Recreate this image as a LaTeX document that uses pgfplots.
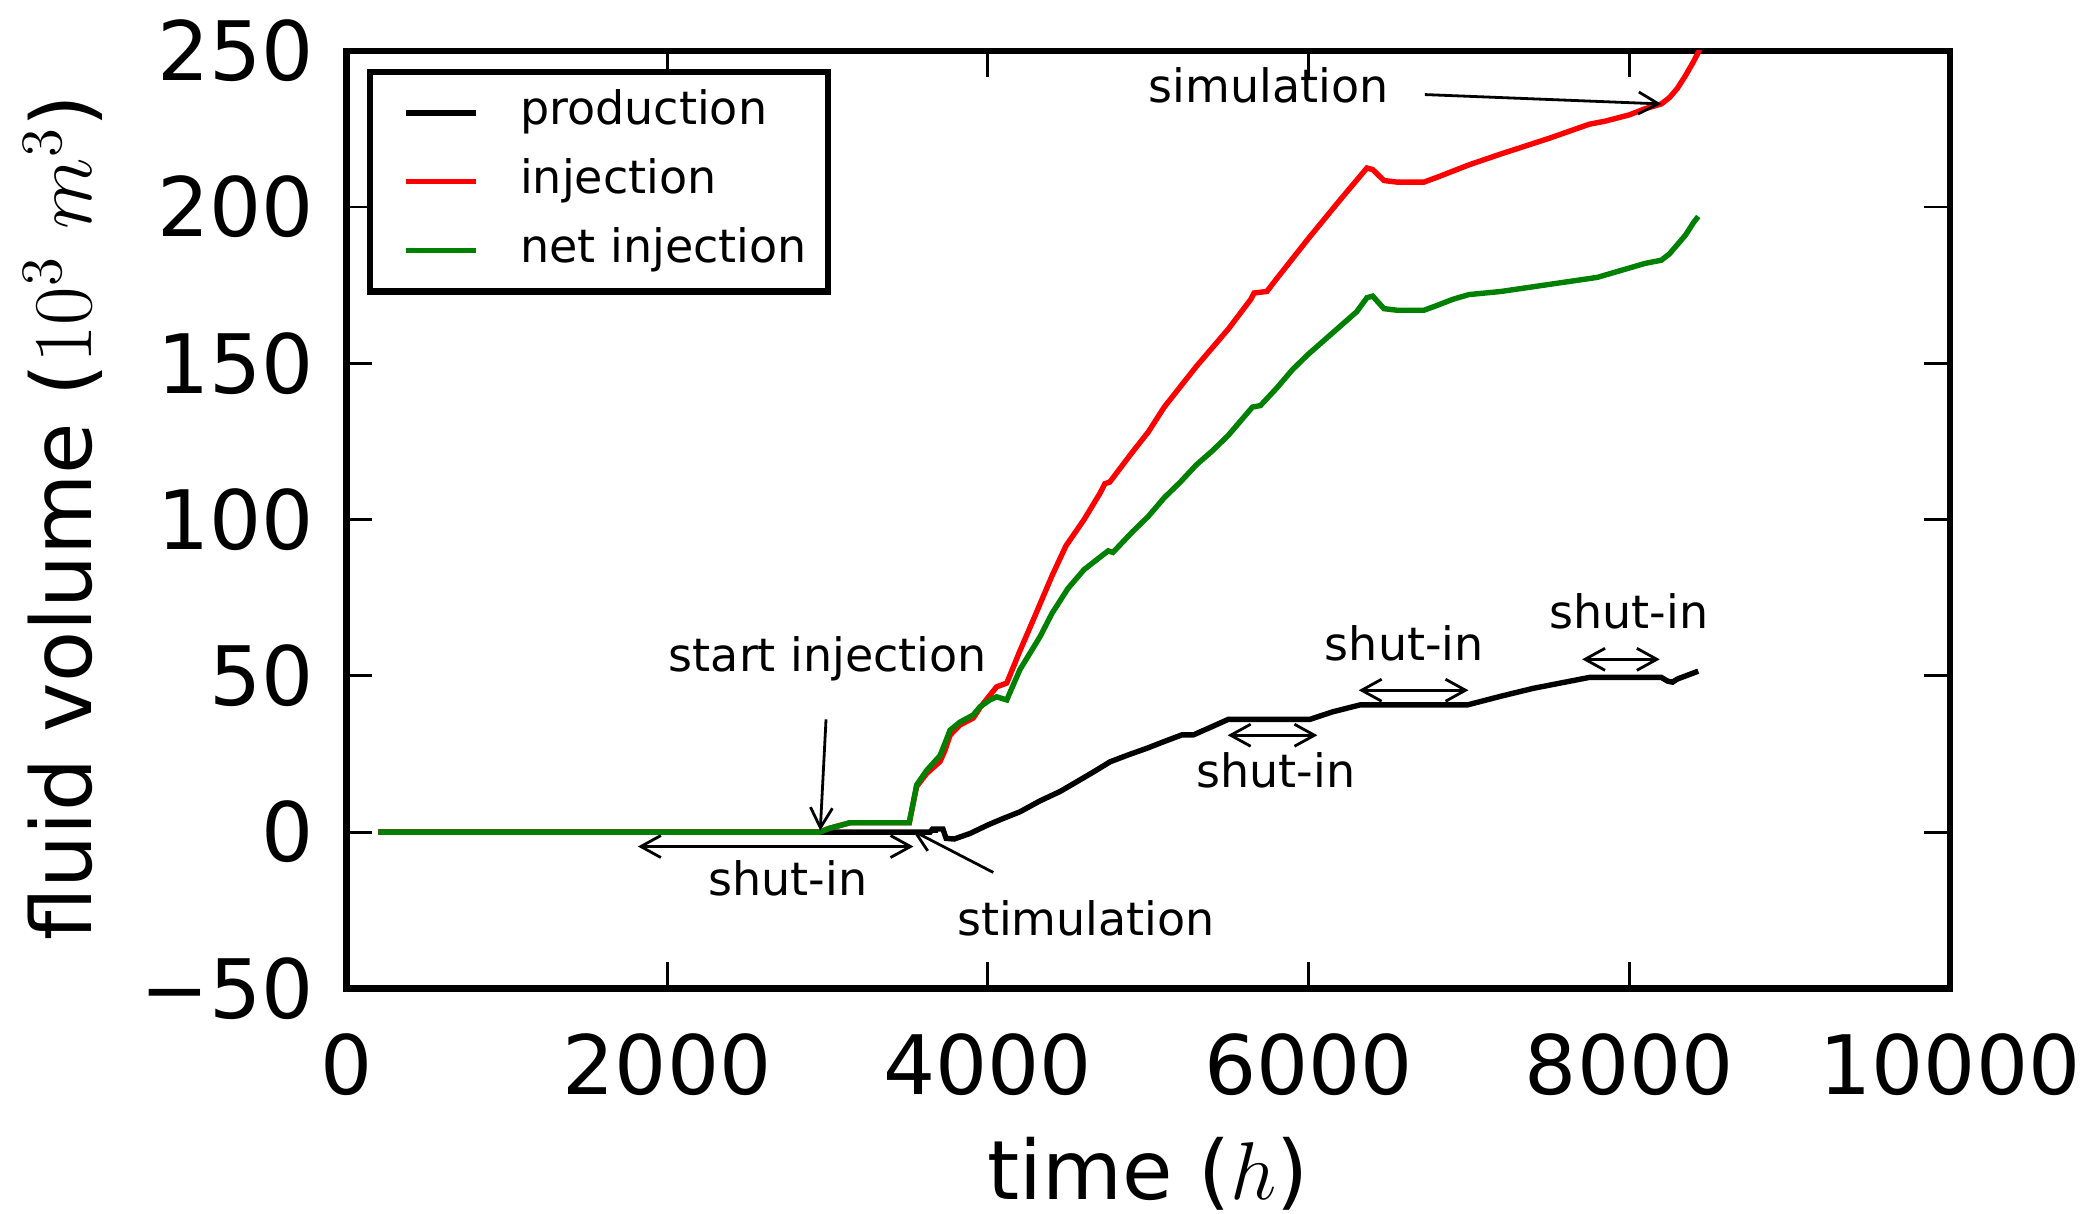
\RequirePackage{fix-cm}
\documentclass[border=0pt]{standalone}
\usepackage[no-math]{fontspec}
\setmainfont{DejaVu Sans}
\usepackage{pgfplots}
\pgfplotsset{compat=1.18}
\usetikzlibrary{arrows.meta}

\definecolor{injred}{RGB}{255,0,0}
\definecolor{netgreen}{RGB}{0,128,0}

\newcommand{\bigfont}{\fontsize{20.5}{24}\selectfont}
\newcommand{\ylabfont}{\fontsize{20.9}{24}\selectfont}
\newcommand{\smallfont}{\fontsize{11.5}{14}\selectfont}

\begin{document}
\begin{tikzpicture}
\begin{axis}[
  name=ax,
  scale only axis,
  width=400.9pt, height=234.4pt,
  xmin=0, xmax=10000, ymin=-50, ymax=250,
  scaled x ticks=false, scaled y ticks=false,
  xtick={0,2000,4000,6000,8000,10000},
  xticklabels={0,2000,4000,6000,8000,10000},
  ytick={-50,0,50,100,150,200,250},
  yticklabels={−50,0,50,100,150,200,250},
  tick align=inside,
  major tick length=6.5pt,
  every tick/.style={line width=0.7pt, black},
  axis line style={line width=1.6pt},
  tick label style={font=\bigfont},
  xticklabel style={inner sep=0pt, yshift=-11pt},
  yticklabel style={inner sep=0pt, xshift=-8pt},
  label style={font=\bigfont},
  xlabel={time ($h$)},
  ylabel={fluid volume ($10^3\ m^3$)},
  xlabel style={at={(axis description cs:0.5,-0.1975)}, anchor=center},
  ylabel style={at={(axis description cs:-0.1766,0.502)}, anchor=center, font=\ylabfont},
  clip mode=individual,
  legend cell align=left,
  legend image code/.code={\path (0pt,0pt); \draw[#1] (2.95pt,0pt) -- (20.45pt,0pt);},
  legend style={
    at={(axis description cs:0.01285,0.9806)}, anchor=north west,
    draw=black, line width=1.6pt, font=\smallfont,
    inner xsep=5.3pt, inner ysep=4.6pt,
    row sep=6.0pt, column sep=10.4pt,
    nodes={inner sep=0pt, text height=8.6pt, text depth=2.6pt},
  },
]

% cumulative produced volume
\addplot[black, line width=1.35pt] coordinates {
  (200,0) (3640,0) (3655,1.0) (3720,1.0) (3740,-2) (3790,-2.2) (3890,-0.4)
  (4000,2.3) (4097,4.4) (4200,6.5) (4325,10) (4450,13) (4554,16.1)
  (4660,19.3) (4762,22.5) (4880,24.8) (4990,26.8) (5100,29) (5209,31.1)
  (5281,31.1) (5400,33.8) (5500,36.1) (6009,36.1) (6150,38.5) (6321,40.7)
  (6990,40.7) (7200,43.5) (7400,46) (7600,48) (7750,49.5) (8200,49.5)
  (8240,48.3) (8270,48.0) (8300,49) (8430,51.5)
};
\addlegendentry{production}

% cumulative injected volume
\addplot[injred, line width=1.35pt] coordinates {
  (200,0) (2950,0) (3010,1.2) (3140,3.0) (3510,3.0) (3556,14.6) (3619,18.8)
  (3702,22.6) (3733,26.2) (3764,31.0) (3826,34.3) (3909,36.5) (3951,39.8)
  (4000,43) (4055,46.5) (4118,47.7) (4200,58) (4284,68) (4400,82)
  (4487,91.6) (4600,100) (4700,108.5) (4730,111.5) (4760,112) (4900,121.5)
  (5000,128) (5100,136) (5300,149) (5500,161) (5640,170.5) (5660,172.5)
  (5740,173) (5800,177) (6000,190) (6200,202.5) (6364,212.5) (6400,212)
  (6470,208.5) (6550,208) (6720,208) (6800,209.5) (6900,211.5) (7000,213.5)
  (7200,217) (7500,222) (7750,226.5) (7850,227.5) (8000,229.5) (8100,231.5)
  (8200,233) (8250,235) (8300,238) (8350,242) (8400,246.5) (8440,250.5)
};
\addlegendentry{injection}

% injected minus produced
\addplot[netgreen, line width=1.35pt] coordinates {
  (200,0) (2950,0) (3010,1.2) (3140,3.0) (3510,3.0) (3556,15.1) (3619,19.8)
  (3702,24.5) (3733,28.5) (3764,32.6) (3826,35.2) (3909,37.5) (3951,40.1)
  (4013,42.3) (4055,43.3) (4118,42.3) (4200,52) (4325,62.5) (4400,70)
  (4500,78) (4600,84) (4700,88) (4750,90) (4780,89.5) (4900,96) (5000,101)
  (5100,107) (5200,112) (5300,117.5) (5400,122) (5500,127) (5600,133)
  (5650,136) (5700,136.5) (5800,142) (5900,148) (6000,153) (6100,157.5)
  (6200,162) (6300,166.5) (6364,171) (6400,171.5) (6470,167.5) (6550,167)
  (6720,167) (6800,168.5) (6900,170.5) (7000,172) (7200,173) (7400,174.5)
  (7600,176) (7800,177.5) (7900,179) (8000,180.5) (8100,182) (8200,183)
  (8250,185) (8300,188) (8350,191) (8400,195) (8430,197)
};
\addlegendentry{net injection}

% event annotations
\tikzset{
  barb/.style={line width=0.7pt, -{Straight Barb[length=5pt,width=5.5pt]}},
  dbarb/.style={line width=0.7pt, {Straight Barb[length=5pt,width=5.5pt]}-{Straight Barb[length=5pt,width=5.5pt]}},
  note/.style={font=\smallfont, inner sep=0pt},
}
\draw[dbarb] (axis cs:1818,-4.6) -- (axis cs:3536,-4.6);
\node[note] at (axis cs:2752,-14.9) {shut-in};
\draw[dbarb] (axis cs:5496,31) -- (axis cs:6055,31);
\node[note] at (axis cs:5796,19.9) {shut-in};
\draw[dbarb] (axis cs:6313,45.4) -- (axis cs:6997,45.4);
\node[note] at (axis cs:6597,60.4) {shut-in};
\draw[dbarb] (axis cs:7706,55.3) -- (axis cs:8190,55.3);
\node[note] at (axis cs:7998,70.6) {shut-in};

\node[note] at (axis cs:3003,55.4) {start injection};
\draw[barb] (axis cs:2991,36.1) -- (axis cs:2955,0.5);

\node[note] at (axis cs:4612,-27.5) {stimulation};
\draw[barb] (axis cs:4034,-12.9) -- (axis cs:3530,0.5);

\node[note] at (axis cs:5752,238.9) {simulation};
\draw[barb] (axis cs:6725,236) -- (axis cs:8200,233);
\end{axis}
\pgfresetboundingbox
\path[use as bounding box, shift={(ax.south west)}] (-86.6pt,-56.15pt) rectangle (437.65pt,247.1pt);
\end{tikzpicture}
\end{document}
